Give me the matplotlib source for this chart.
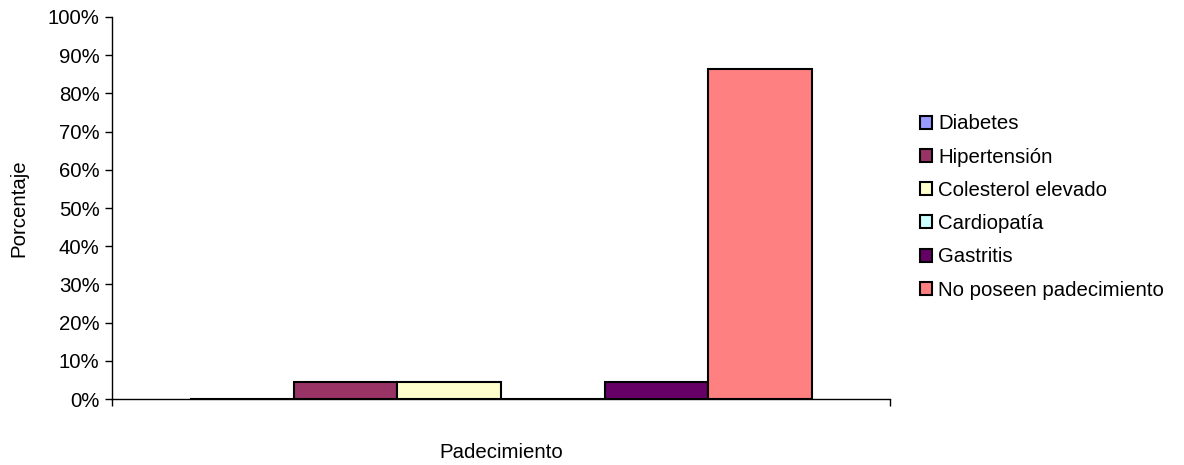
import matplotlib.pyplot as plt
from matplotlib.patches import Patch
import numpy as np

plt.rcParams['font.family'] = ['Liberation Sans', 'DejaVu Sans']

series = ['Diabetes', 'Hipertensión', 'Colesterol elevado', 'Cardiopatía',
          'Gastritis', 'No poseen padecimiento']
values = [0.0, 4.5, 4.5, 0.0, 4.5, 86.4]
colors = ['#9999FF', '#993366', '#FFFFCC', '#CCFFFF', '#660066', '#FF8080']

fs = 14.7
fig = plt.figure(figsize=(11.84, 4.65), dpi=100)
ax = fig.add_axes([112 / 1184, 66 / 465, 778 / 1184, 382 / 465])

n = len(series)
w = 1 / 7.5
offsets = (np.arange(n) - (n - 1) / 2) * w
for off, v, c in zip(offsets, values, colors):
    ax.bar(off, v, width=w, color=c, edgecolor='black', linewidth=1.5, zorder=3)

ax.set_xlim(-0.5, 0.5)
ax.set_ylim(0, 100)
ax.set_yticks(np.arange(0, 101, 10))
ax.set_yticklabels([f'{t}%' for t in range(0, 101, 10)], fontsize=fs)
ax.set_xticks([-0.5, 0.5])
ax.set_xticklabels(['', ''])
ax.tick_params(axis='both', direction='out', length=5, width=1, color='black', pad=4)
ax.spines['top'].set_visible(False)
ax.spines['right'].set_visible(False)
for s in ['left', 'bottom']:
    ax.spines[s].set_linewidth(1)
ax.set_ylabel('Porcentaje', fontsize=fs)
ax.yaxis.set_label_coords((28 - 112) / 778, 0.5)
ax.set_xlabel('Padecimiento', fontsize=fs, labelpad=23)

handles = [Patch(facecolor=c, edgecolor='black', linewidth=1.5) for c in colors]
fig.legend(handles, series, loc='center left', bbox_to_anchor=(920 / 1184, 1 - 207 / 465),
           frameon=False, fontsize=fs, handlelength=0.6, handleheight=0.6,
           handletextpad=0.3, labelspacing=0.7, borderpad=0, borderaxespad=0)

fig.savefig('out.png', dpi=100)
